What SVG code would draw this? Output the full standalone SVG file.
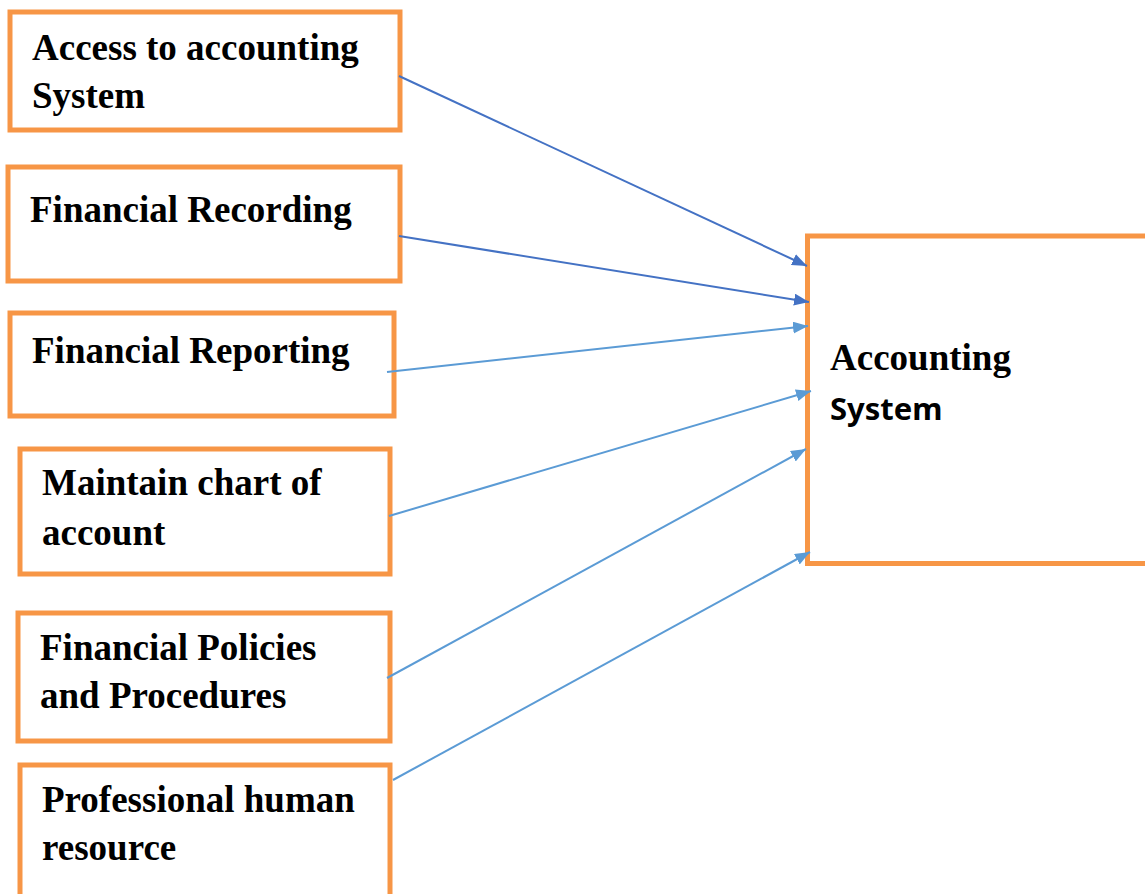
<svg xmlns="http://www.w3.org/2000/svg" width="1145" height="894" viewBox="0 0 1145 894">
<style>
.box{fill:#fff;stroke:#F79646;stroke-width:5}
.t{font-family:"Liberation Serif","Times New Roman",serif;font-weight:bold;font-size:37px;fill:#000}
.s{font-family:"Noto Sans","Open Sans",sans-serif;font-weight:bold;font-size:31px;fill:#000}
.dk{stroke:#4472C4;stroke-width:2;fill:none;marker-end:url(#ad)}
.lt{stroke:#5B9BD5;stroke-width:2;fill:none;marker-end:url(#al)}
</style>
<defs>
<marker id="ad" markerUnits="userSpaceOnUse" markerWidth="16" markerHeight="12" refX="15" refY="6" orient="auto"><path d="M0,0 L15,6 L0,12 z" fill="#4472C4"/></marker>
<marker id="al" markerUnits="userSpaceOnUse" markerWidth="16" markerHeight="12" refX="15" refY="6" orient="auto"><path d="M0,0 L15,6 L0,12 z" fill="#5B9BD5"/></marker>
</defs>
<rect width="1145" height="894" fill="#fff"/>
<g id="n1"><rect class="box" x="10" y="12" width="390" height="118"/><text class="t" x="32" y="60">Access to accounting</text><text class="t" x="32" y="108">System</text></g>
<g id="n2"><rect class="box" x="8" y="167" width="392" height="114"/><text class="t" x="30" y="222">Financial Recording</text></g>
<g id="n3"><rect class="box" x="10" y="313" width="384" height="103"/><text class="t" x="32" y="363">Financial Reporting</text></g>
<g id="n4"><rect class="box" x="20" y="449" width="370" height="125"/><text class="t" x="42" y="495">Maintain chart of</text><text class="t" x="42" y="545">account</text></g>
<g id="n5"><rect class="box" x="18" y="613" width="372" height="128"/><text class="t" x="40" y="660">Financial Policies</text><text class="t" x="40" y="708">and Procedures</text></g>
<g id="n6"><rect class="box" x="20" y="765" width="370" height="140"/><text class="t" x="42" y="812">Professional human</text><text class="t" x="42" y="860">resource</text></g>
<g id="n7"><rect class="box" x="807.5" y="236" width="400" height="327.5"/><text class="t" x="830" y="370">Accounting</text><text class="s" x="830" y="420">System</text></g>
<g id="connectors">
<line class="dk" x1="399" y1="76" x2="807" y2="266"/>
<line class="dk" x1="399" y1="236" x2="809" y2="302"/>
<line class="lt" x1="387" y1="372" x2="808" y2="326"/>
<line class="lt" x1="389" y1="516" x2="811" y2="391"/>
<line class="lt" x1="387" y1="678" x2="806" y2="449"/>
<line class="lt" x1="393" y1="780" x2="810" y2="552"/>
</g>
</svg>
